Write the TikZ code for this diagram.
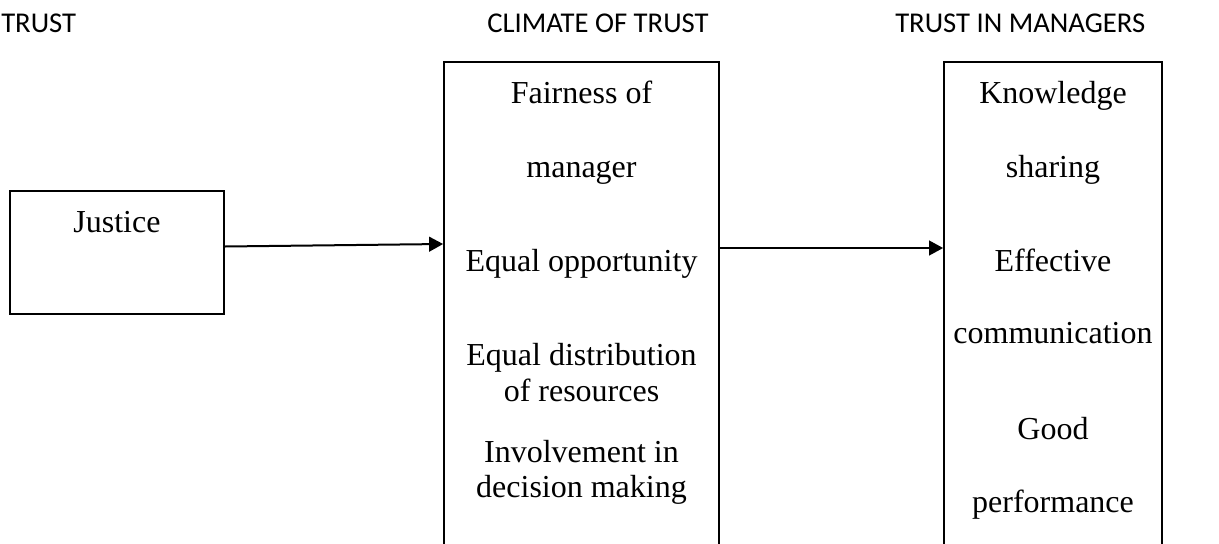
\documentclass[tikz,border=0pt]{standalone}
\usepackage{fontspec}
\setmainfont{Liberation Serif}
\newfontfamily\headfont{Carlito}
\usetikzlibrary{arrows.meta}
\begin{document}
\begin{tikzpicture}[x=0.75pt,y=-0.75pt,
  box/.style={draw=black,line width=1.3pt,minimum width=#1,inner sep=0pt},
  head/.style={font=\headfont\fontsize{21.5pt}{26pt}\selectfont,anchor=base west,inner sep=0pt},
  txt/.style={font=\fontsize{24pt}{28pt}\selectfont,anchor=base,inner sep=0pt},
  arr/.style={line width=1.5pt,-{Triangle[length=10.5pt,width=11pt]}}]
\useasboundingbox (0,0) rectangle (1219,543);
\clip (0,0) rectangle (1219,543);
% headings
\node[head] (h1) at (1,32) {TRUST};
\node[head] (h2) at (487,32) {CLIMATE OF TRUST};
\node[head] (h3) at (895,32) {TRUST IN MANAGERS};
% boxes
\node[box=214*0.75pt,minimum height=123*0.75pt] (j) at (117,252.5) {};
\node[box=275*0.75pt,minimum height=538*0.75pt] (m) at (581.5,331) {};
\node[box=218*0.75pt,minimum height=538*0.75pt] (r) at (1053,331) {};
% texts
\node[txt] (tj) at (117,232) {Justice};
\node[txt] (m1) at (581.5,103) {Fairness of};
\node[txt] (m2) at (581.5,177) {manager};
\node[txt] (m3) at (581.5,271) {Equal opportunity};
\node[txt] (m4) at (581.5,365) {Equal distribution};
\node[txt] (m5) at (581.5,401.5) {of resources};
\node[txt] (m6) at (581.5,462) {Involvement in};
\node[txt] (m7) at (581.5,497) {decision making};
\node[txt] (r1) at (1053,103) {Knowledge};
\node[txt] (r2) at (1053,177) {sharing};
\node[txt] (r3) at (1053,271) {Effective};
\node[txt] (r4) at (1053,343.5) {communication};
\node[txt] (r5) at (1053,439) {Good};
\node[txt] (r6) at (1053,512) {performance};
% arrows
\draw[arr] (j.east |- 0,246.5) -- (m.west |- 0,244);
\draw[arr] (m.east |- 0,248) -- (r.west |- 0,248);
\end{tikzpicture}
\end{document}
